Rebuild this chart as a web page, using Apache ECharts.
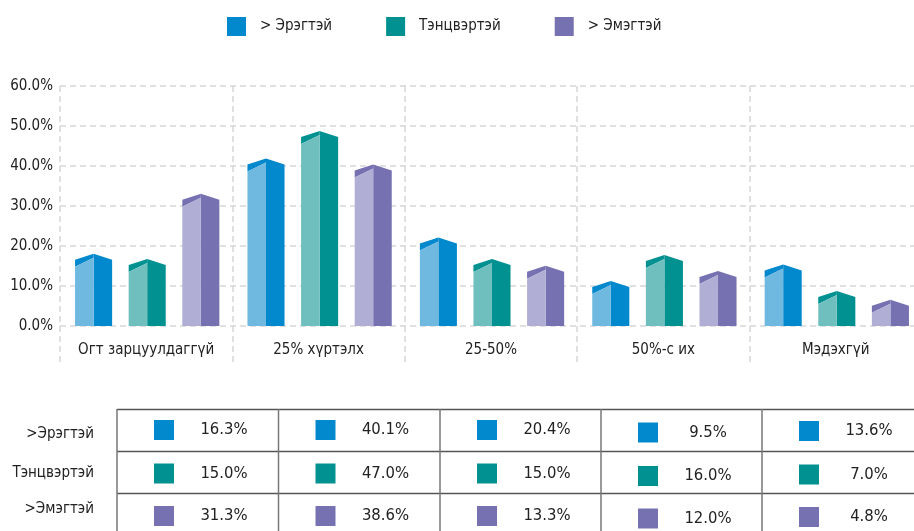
<!DOCTYPE html>
<html><head><meta charset="utf-8">
<script src="https://cdn.jsdelivr.net/npm/echarts@6/dist/echarts.min.js"></script>
<style>html,body{margin:0;padding:0;background:#fff}#c{width:914px;height:531px}</style>
</head><body><div id="c"></div>
<script>
var categories = ['Огт зарцуулдаггүй', '25% хүртэлх', '25-50%', '50%-с их', 'Мэдэхгүй'];
var seriesNames = ['> Эрэгтэй', 'Тэнцвэртэй', '> Эмэгтэй'];
var tableRowLabels = ['>Эрэгтэй', 'Тэнцвэртэй', '>Эмэгтэй'];
var male = [16.3, 40.1, 20.4, 9.5, 13.6];
var balanced = [15.0, 47.0, 15.0, 16.0, 7.0];
var female = [31.3, 38.6, 13.3, 12.0, 4.8];
var yTicks = [0, 10, 20, 30, 40, 50, 60];

var seriesValues = [male, balanced, female];
var darkColors = ['#0288cc', '#009190', '#7672b2'];
var lightColors = ['#6fb8e0', '#70bfbf', '#b0aed5'];
var FONT = '"Liberation Sans Narrow","DejaVu Sans Condensed","Roboto Condensed",sans-serif';
var TXT = '#222';
var FS = 15;
var TFS = 16.5;

function makeRender(si) {
  return function (params, api) {
    var cat = api.value(0), val = api.value(1);
    var base = api.coord([cat, 0]);
    var top = api.coord([cat, val]);
    var band = api.size([1, 0])[0];
    var w = band * 0.215, step = band * 0.311;
    var c = base[0] + 1 + (si - 1) * step;
    var l = c - w / 2, r = c + w / 2;
    var y0 = base[1], yv = top[1];
    var dark = darkColors[si], light = lightColors[si];
    return {
      type: 'group',
      children: [
        { type: 'polygon', shape: { points: [[c, yv - 7], [r, yv - 1], [r, y0], [c, y0]] }, style: { fill: dark } },
        { type: 'polygon', shape: { points: [[l, yv - 1], [c, yv - 7], [c, yv - 3], [l, yv + 6]] }, style: { fill: dark } },
        { type: 'polygon', shape: { points: [[l, yv + 6], [c, yv - 3], [c, y0], [l, y0]] }, style: { fill: light } }
      ]
    };
  };
}

var series = seriesValues.map(function (vals, si) {
  return {
    name: seriesNames[si],
    type: 'custom',
    renderItem: makeRender(si),
    itemStyle: { color: darkColors[si] },
    encode: { x: 0, y: 1 },
    data: vals.map(function (v, i) { return [i, v]; })
  };
});

// table graphics
var graphics = [];
var colLeft = [117, 278.5, 440, 601, 762];
var rowTextY = [430, 473.5, 516];
var rowLabelY = [434, 473, 509];
var colYOff = [0, 0, 0, 2.5, 1];
var lineColor = '#555';
[409.5, 451.5, 493.5].forEach(function (y) {
  graphics.push({ type: 'line', shape: { x1: 117, y1: y, x2: 914, y2: y }, style: { stroke: lineColor, lineWidth: 1.5 } });
});
colLeft.forEach(function (x) {
  graphics.push({ type: 'line', shape: { x1: x, y1: 409, x2: x, y2: 531 }, style: { stroke: '#777', lineWidth: 1.5 } });
});
tableRowLabels.forEach(function (lab, ri) {
  graphics.push({ type: 'text', x: 94, y: rowLabelY[ri], style: { text: lab, fill: TXT, font: FS + 'px ' + FONT, align: 'right', verticalAlign: 'middle' } });
  seriesValues[ri].forEach(function (v, ci) {
    var yc = rowTextY[ri] + colYOff[ci];
    graphics.push({ type: 'rect', shape: { x: colLeft[ci] + 37, y: yc - 10, width: 20, height: 20 }, style: { fill: darkColors[ri] } });
    graphics.push({ type: 'text', x: colLeft[ci] + 107, y: yc, style: { text: v.toFixed(1) + '%', fill: TXT, font: TFS + 'px ' + FONT, align: 'center', verticalAlign: 'middle' } });
  });
});

var gridLine = { type: [6, 4], color: '#d6d6d6', width: 1.5 };
var chart = echarts.init(document.getElementById('c'));
chart.setOption({
  animation: false,
  textStyle: { fontFamily: FONT },
  legend: {
    data: seriesNames,
    left: 227, top: 17, padding: 0,
    icon: 'rect', itemWidth: 19, itemHeight: 19, itemGap: 54,
    textStyle: { fontSize: FS, color: TXT, fontFamily: FONT, padding: [0, 0, 0, 9] }
  },
  grid: { left: 60, top: 86, width: 862, height: 240, outerBoundsMode: 'none', containLabel: false },
  xAxis: {
    type: 'category', data: categories,
    axisLine: { show: false },
    axisTick: { show: true, interval: 0, length: 40, lineStyle: gridLine },
    axisLabel: { interval: 0, fontSize: FS, color: TXT, fontFamily: FONT, margin: 17 },
    splitLine: { show: true, interval: 0, lineStyle: gridLine }
  },
  yAxis: {
    type: 'value', min: yTicks[0], max: yTicks[yTicks.length - 1], interval: 10,
    axisLine: { show: false }, axisTick: { show: false },
    axisLabel: { fontSize: FS, color: TXT, fontFamily: FONT, margin: 7, formatter: function (v) { return v.toFixed(1) + '%'; } },
    splitLine: { show: true, lineStyle: gridLine }
  },
  series: series,
  graphic: graphics
});
</script></body></html>
